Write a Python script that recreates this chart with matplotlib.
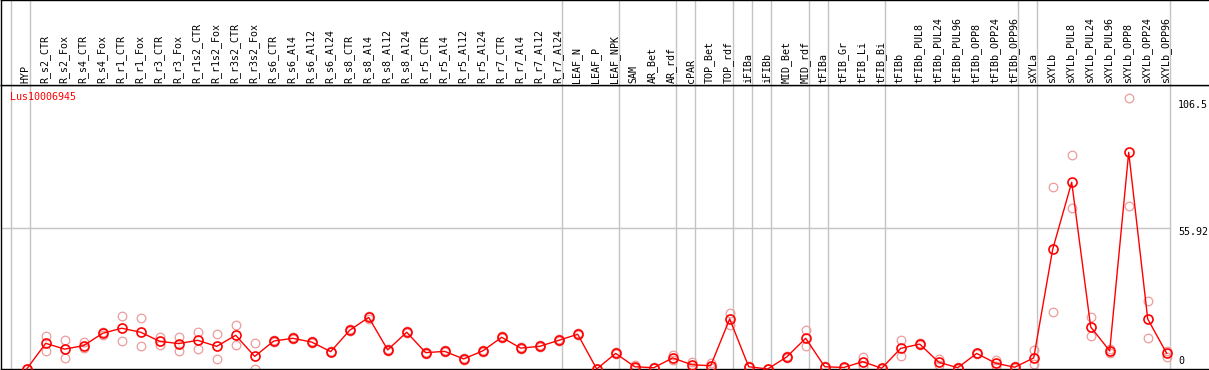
import matplotlib
matplotlib.use('Agg')
import matplotlib.pyplot as plt
import matplotlib.transforms as mtransforms

# sample names
samples = ['HYP', 'R_s2_CTR', 'R_s2_Fox', 'R_s4_CTR', 'R_s4_Fox', 'R_r1_CTR', 'R_r1_Fox',
           'R_r3_CTR', 'R_r3_Fox', 'R_r1s2_CTR', 'R_r1s2_Fox', 'R_r3s2_CTR', 'R_r3s2_Fox',
           'R_s6_CTR', 'R_s6_Al4', 'R_s6_Al12', 'R_s6_Al24', 'R_s8_CTR', 'R_s8_Al4',
           'R_s8_Al12', 'R_s8_Al24', 'R_r5_CTR', 'R_r5_Al4', 'R_r5_Al12', 'R_r5_Al24',
           'R_r7_CTR', 'R_r7_Al4', 'R_r7_Al12', 'R_r7_Al24', 'LEAF_N', 'LEAF_P', 'LEAF_NPK',
           'SAM', 'AR_Bet', 'AR_rdf', 'cPAR', 'TOP_Bet', 'TOP_rdf', 'iFIBa', 'iFIBb',
           'MID_Bet', 'MID_rdf', 'tFIBa', 'tFIB_Gr', 'tFIB_Li', 'tFIB_Bi', 'tFIBb',
           'tFIBb_PUL8', 'tFIBb_PUL24', 'tFIBb_PUL96', 'tFIBb_OPP8', 'tFIBb_OPP24',
           'tFIBb_OPP96', 'sXYLa', 'sXYLb', 'sXYLb_PUL8', 'sXYLb_PUL24', 'sXYLb_PUL96',
           'sXYLb_OPP8', 'sXYLb_OPP24', 'sXYLb_OPP96']

# mean expression
mean_expr = [0, 10.2, 7.9, 9.3, 14.2, 16.2, 14.6, 11.0, 10.1, 11.4, 9.0, 13.4, 5.0,
             11.1, 12.2, 10.7, 6.9, 15.4, 20.5, 7.6, 14.6, 6.5, 7.0, 4.0, 7.2,
             12.6, 8.3, 9.0, 11.4, 13.8, 0, 6.2, 0.9, 0.5, 4.4, 1.7, 1.3, 19.9, 0.9, 0,
             4.8, 12.2, 0.9, 0.6, 2.9, 0.3, 8.2, 9.9, 2.7, 0.5, 6.2, 2.3, 0.7,
             4.4, 47.6, 74.2, 16.7, 7.2, 86.1, 19.9, 6.2]

# replicates
rep_a = [0, 13.1, 11.5, 10.6, 14.8, 21.1, 20.1, 12.8, 12.7, 14.7, 13.9, 17.5, 10.2,
         11.6, 12.6, 11.1, 7.2, 15.8, 21.0, 8.0, 15.0, 6.9, 7.4, 4.4, 7.6,
         13.0, 8.7, 9.4, 11.8, 14.2, 0, 6.6, 1.6, 0.8, 5.4, 2.7, 2.3, 22.3, 1.2, 0,
         5.2, 15.5, 1.2, 0.9, 4.9, 0.5, 11.5, 10.4, 4.0, 0.9, 6.5, 3.5, 1.2,
         7.6, 72.5, 84.9, 20.5, 7.8, 107.6, 27.0, 7.2]
rep_b = [0, 7.3, 4.3, 8.2, 13.6, 11.0, 9.0, 9.4, 7.3, 7.8, 4.1, 9.4, -0.1,
         10.6, 11.8, 10.3, 6.6, 15.0, 20.0, 7.2, 14.2, 6.1, 6.6, 3.6, 6.8,
         12.2, 7.9, 8.6, 11.0, 13.4, 0, 5.8, 0.2, 0.2, 3.4, 0.7, 0.3, 17.4, 0.6, 0,
         4.4, 9.3, 0.6, 0.3, 1.3, 0.1, 5.0, 9.4, 1.5, 0.1, 5.9, 1.2, 0.2,
         2.0, 22.5, 63.9, 13.0, 6.2, 64.7, 12.3, 4.9]

# last sample of each group (-1 = before first)
group_ends = [-1, 0, 28, 31, 34, 35, 37, 38, 39, 41, 42, 45, 52, 53, 60]
ytick_vals = [106.5, 55.92, 0]
gene = 'Lus10006945'

W, H = 1209, 370
fig = plt.figure(figsize=(W / 100, H / 100), dpi=100)
font = dict(family='DejaVu Sans Mono', size=7.2)

x = list(range(len(samples)))
xlo, xhi = (1 - 26.7) / 19, (1209 - 26.7) / 19
ymax = (369 - 85) * 0.3974

ax = fig.add_axes([1 / W, 1 / H, 1208 / W, 284 / H])
hdr = fig.add_axes([1 / W, 285 / H, 1208 / W, 85 / H])

for a in (ax, hdr):
    a.set_xlim(xlo, xhi)
    a.set_xticks([])
    a.set_yticks([])
    a.spines['right'].set_visible(False)
    for s in ('left', 'top', 'bottom'):
        a.spines[s].set_color('black')
        a.spines[s].set_linewidth(1.0)
    for g in group_ends:
        a.axvline(g + 0.19, color='#c4c4c4', lw=1.0, zorder=0)
ax.set_ylim(0, ymax)
hdr.set_ylim(0, 1)

ax.plot([xlo, group_ends[-1] + 0.19], [55.92, 55.92], color='#c4c4c4', lw=1.0, zorder=0)

ax.plot(x, rep_a, 'o', ls='none', ms=6.2, mfc='none', mec='#ec9c9c', mew=0.9,
        clip_on=False, zorder=2)
ax.plot(x, rep_b, 'o', ls='none', ms=6.2, mfc='none', mec='#ec9c9c', mew=0.9,
        clip_on=False, zorder=2)
ax.plot(x, mean_expr, '-o', color='red', lw=1.0, ms=6.5, mfc='none', mec='red',
        mew=1.2, clip_on=False, zorder=3)

trans = mtransforms.blended_transform_factory(hdr.transData, hdr.transAxes)
for i, name in enumerate(samples):
    hdr.text(i - 0.05, 0.024, name, rotation=90, ha='center', va='bottom',
             transform=trans, **font)

ax.text(-0.9, 108.1, gene, color='red', ha='left', va='center', **font)

xl = (1178 - 26.7) / 19
ax.text(xl, ytick_vals[0] + 0.5, '106.5', ha='left', va='top', **font)
ax.text(xl, ytick_vals[1] + 0.5, '55.92', ha='left', va='top', **font)
ax.text(xl, ytick_vals[2] + 1.0, '0', ha='left', va='bottom', **font)

fig.savefig('out.png', dpi=100)
